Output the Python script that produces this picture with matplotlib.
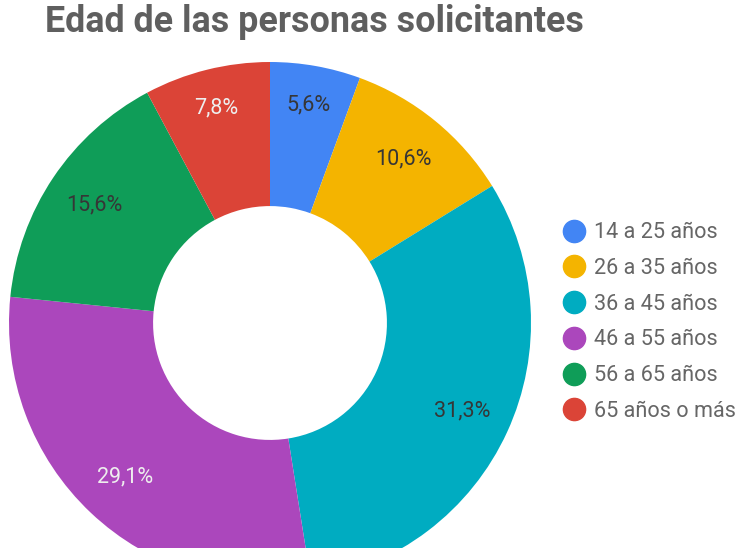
import matplotlib.pyplot as plt
from matplotlib.lines import Line2D

plt.rcParams['font.family'] = ['Roboto', 'DejaVu Sans']

# data
labels = ['14 a 25 años', '26 a 35 años', '36 a 45 años',
          '46 a 55 años', '56 a 65 años', '65 años o más']
values = [5.6, 10.6, 31.3, 29.1, 15.6, 7.8]
colors = ['#4285F4', '#F4B400', '#00ACC1', '#AB47BC', '#0F9D58', '#DB4437']
text_colors = ['#363636', '#363636', '#363636', '#eeeeee', '#363636', '#eeeeee']

W, H = 742, 548
fig = plt.figure(figsize=(W / 100, H / 100), dpi=100)

# pie center (270, 323) px, radius 261 px
cx, cy, r = 270, 323, 261
ax = fig.add_axes([(cx - r) / W, (H - cy - r) / H, 2 * r / W, 2 * r / H])
wedges, texts, autotexts = ax.pie(
    values, colors=colors, startangle=90, counterclock=False,
    radius=1, pctdistance=0.81,
    autopct=lambda p: f'{p:.1f}%'.replace('.', ','),
    wedgeprops=dict(width=0.552, linewidth=0),
    textprops=dict(fontsize=15.5))
for t, c, v in zip(autotexts, text_colors, values):
    t.set_color(c)
    # small slices get their label pushed a bit further out
    if v < 10:
        x, y = t.get_position()
        t.set_position((x * 1.05, y * 1.05))
ax.set_xlim(-1, 1)
ax.set_ylim(-1, 1)
ax.set_aspect('equal')
ax.axis('off')

fig.text(45 / W, 1 - 22 / H, 'Edad de las personas solicitantes',
         fontsize=25.8, fontweight='bold', color='#5f5f5f', va='center', ha='left')

handles = [Line2D([], [], marker='o', linestyle='', markersize=16,
                  markerfacecolor=c, markeredgecolor=c) for c in colors]
fig.legend(handles, labels, loc='center left',
           bbox_to_anchor=(549 / W, 1 - 322 / H), frameon=False,
           fontsize=15.6, labelcolor='#666666', handletextpad=0.2,
           labelspacing=0.68, borderaxespad=0, handlelength=1.5)

fig.savefig('out.png', dpi=100)
